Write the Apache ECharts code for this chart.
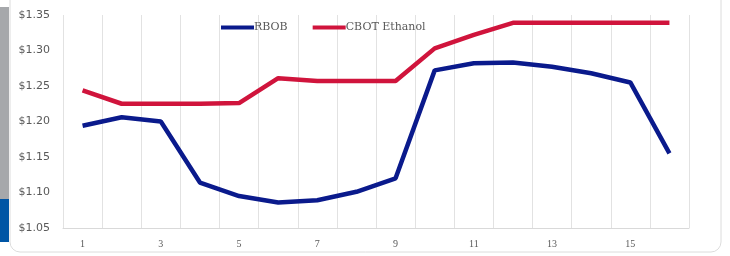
<!DOCTYPE html>
<html>
<head>
<meta charset="utf-8">
<script src="https://cdn.jsdelivr.net/npm/echarts@6/dist/echarts.min.js"></script>
<style>
  html, body { margin: 0; padding: 0; background: #fff; }
  #chart { width: 730px; height: 256px; }
</style>
</head>
<body>
<div id="chart"></div>
<script>
// weeks along the x axis
const categories = ['1','2','3','4','5','6','7','8','9','10','11','12','13','14','15','16']
// $ per gallon
const rbob = [1.194, 1.206, 1.200, 1.114, 1.095, 1.086, 1.089, 1.101, 1.120, 1.272, 1.282, 1.283, 1.277, 1.268, 1.255, 1.155]
const ethanol = [1.244, 1.225, 1.225, 1.225, 1.226, 1.261, 1.257, 1.257, 1.257, 1.303, 1.322, 1.339, 1.339, 1.339, 1.339, 1.339]
const seriesNames = ['RBOB', 'CBOT Ethanol']

const chart = echarts.init(document.getElementById('chart'))

// 折线图配置
const option = {
  animation: false,
  color: ['#0a1a8c', '#d0143c'],
  graphic: [
    // card border
    {
      type: 'rect',
      shape: { x: 10, y: -20, width: 711, height: 272, r: 10 },
      style: { fill: 'none', stroke: '#dcdcdc', lineWidth: 1 },
      z: -10
    },
    // side strip
    { type: 'rect', shape: { x: 0, y: 7, width: 9, height: 192 }, style: { fill: '#a6a8ab' } },
    { type: 'rect', shape: { x: 0, y: 199, width: 9, height: 43 }, style: { fill: '#0055a5' } }
  ],
  grid: {
    top: 15,
    bottom: 28,
    left: 63,
    right: 41
  },
  legend: {
    left: 216,
    top: 17,
    icon: 'rect',
    itemWidth: 33,
    itemHeight: 4,
    itemGap: 25,
    data: seriesNames,
    textStyle: {
      color: '#595959',
      fontFamily: 'DejaVu Serif',
      fontSize: 11,
      padding: [0, 0, 0, -5]
    }
  },
  xAxis: {
    type: 'category',
    data: categories,
    boundaryGap: true,
    axisLine: { lineStyle: { color: '#d9d9d9' } },
    axisTick: { show: false },
    axisLabel: {
      interval: 1,
      margin: 11,
      color: '#595959',
      fontFamily: 'Liberation Serif',
      fontSize: 10
    },
    splitLine: {
      show: true,
      interval: 0,
      lineStyle: { color: '#e2e2e2' }
    }
  },
  yAxis: {
    type: 'value',
    min: 1.05,
    max: 1.35,
    interval: 0.05,
    axisLine: { show: false },
    axisTick: { show: false },
    splitLine: { show: false },
    axisLabel: {
      margin: 13,
      color: '#595959',
      fontFamily: 'DejaVu Sans',
      fontSize: 11,
      formatter: v => '$' + v.toFixed(2)
    }
  },
  series: [
    {
      name: seriesNames[0],
      type: 'line',
      symbol: 'none',
      lineStyle: { width: 4.5 },
      data: rbob
    },
    {
      name: seriesNames[1],
      type: 'line',
      symbol: 'none',
      lineStyle: { width: 4.5 },
      data: ethanol
    }
  ]
}
chart.setOption(option)
</script>
</body>
</html>
